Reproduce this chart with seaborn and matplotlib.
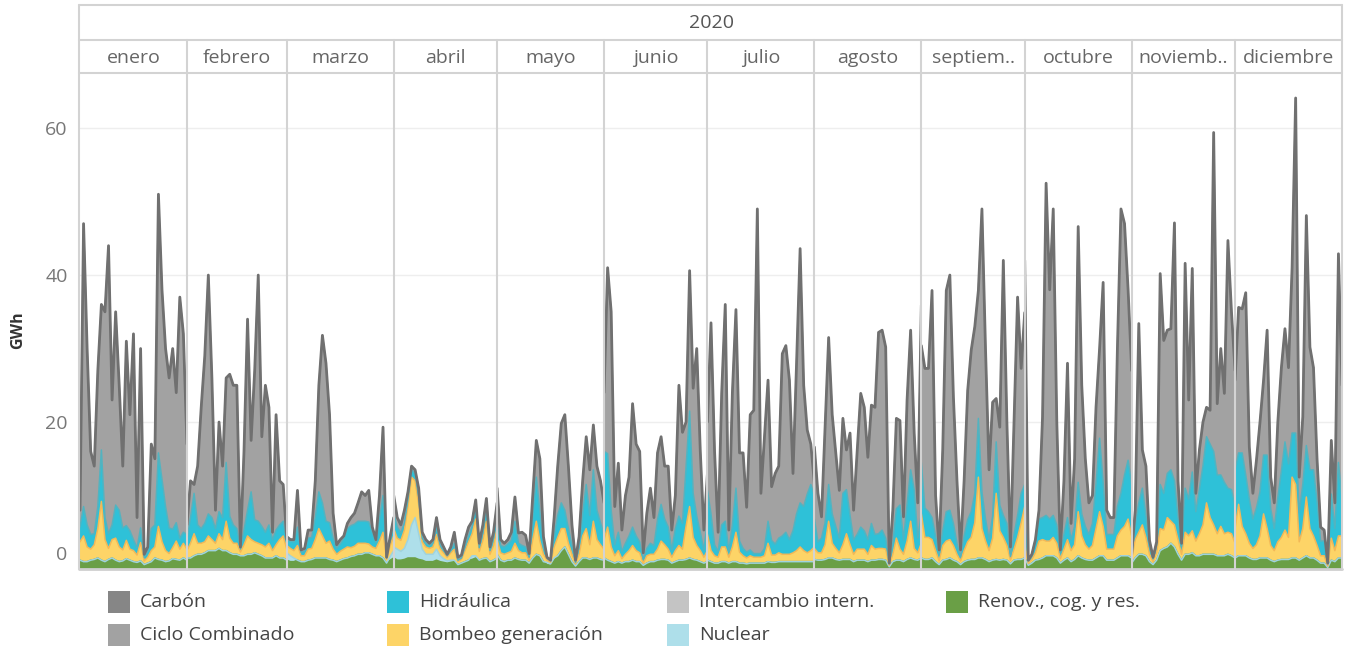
import numpy as np
import pandas as pd
import seaborn as sns
import matplotlib.pyplot as plt
from matplotlib.patches import Rectangle
from matplotlib.lines import Line2D

# Meses (etiquetas tal como aparecen en el panel)
meses = ["enero", "febrero", "marzo", "abril", "mayo", "junio", "julio",
         "agosto", "septiem..", "octubre", "noviemb..", "diciembre"]

# GWh diarios: altura total del área apilada (línea superior)
total = (
    # enero
    [8, 47, 30, 16, 14, 27, 36, 35, 44, 23, 35, 25, 14, 31, 21, 32, 7, 30, 2, 3,
     17, 15, 51, 38, 30, 26, 30, 24, 37, 32, 17]
    # febrero
    + [6, 12, 11.5, 14, 22, 29, 40, 26, 8, 20, 14, 26, 26.5, 25, 25, 3, 16, 34, 17.5, 27,
       40, 18, 25, 22, 5, 21, 12, 11.5, 4]
    # marzo
    + [4.4, 4, 4, 10.7, 2.6, 2.8, 5.3, 5.3, 12, 25, 31.8, 28, 21, 7.6, 3.3, 4, 4.5, 6.2, 7, 7.6,
       9, 10.5, 10, 10.7, 5.7, 4, 10, 19.3, 1.6, 4.4, 7]
    # abril
    + [10, 7, 6, 8, 10.5, 14, 13.5, 11, 5, 4, 3.5, 4, 7, 4, 3, 2, 3, 5, 1.6, 1.9,
       4, 5.7, 6.5, 9.4, 3.5, 6, 9.6, 3, 5, 9]
    # mayo
    + [11, 4, 3.5, 4, 5, 9.8, 4.9, 5, 4.6, 2.1, 10, 17.5, 15, 4.4, 1.6, 1.2, 7, 14, 19.8, 21,
       14, 6, 1.2, 4.4, 12, 18, 13.5, 19.6, 14, 12, 9]
    # junio
    + [24, 41, 35, 8.5, 14.4, 5.3, 10, 12.5, 22.5, 17, 16, 2.2, 7.6, 11, 7, 15.8, 18, 14, 14, 5.3,
       10, 25, 18.6, 20, 40.6, 24.6, 30, 16, 5.3, 13]
    # julio
    + [20, 33.5, 16, 5, 24, 36, 5.3, 24, 35.3, 15.8, 15.8, 8.4, 21, 21.6, 49, 10.3, 18, 25.7, 11.2, 13,
       14, 29.3, 30.4, 25.7, 13, 28, 43.6, 25, 18.9, 17, 11.7]
    # agosto
    + [16.6, 10.3, 7.1, 19.3, 31.5, 21, 15.8, 10.7, 20.5, 16.2, 18.5, 8, 16, 23.9, 22, 15.2, 22.3, 22, 32.2, 32.5,
       30.2, 0.8, 8, 20.5, 20.2, 7.1, 23, 32.5, 18.5, 9, 35.9]
    # septiembre
    + [30.4, 27.3, 27.3, 37.9, 10, 2.6, 16.2, 37.9, 40, 23.4, 12, 2.6, 12, 24.3, 29.8, 33, 37.9, 49, 30, 13.5,
       22.7, 23.2, 19.3, 42, 20, 3, 20, 37, 27.3, 34.9]
    # octubre
    + [42, 1.2, 2, 4, 8, 20.7, 52.5, 38, 49, 20, 2.6, 12, 28, 6.2, 15, 46.6, 25, 15, 9, 10,
       22, 30, 39, 8, 7, 7, 30, 49, 47, 38, 27]
    # noviembre
    + [2, 8, 33.4, 16.2, 14, 3.9, 1.6, 3.7, 40.2, 31.1, 32.5, 32.7, 47.1, 12, 3.5, 41.6, 23, 40.9, 10.3, 16.2,
       20, 22, 21.6, 59.4, 22.5, 30, 23.9, 44.7, 35, 27]
    # diciembre
    + [25.7, 35.6, 35.4, 37.6, 16.6, 10.3, 14.8, 20, 25.7, 32.5, 12.5, 9, 20, 27.4, 32.7, 27.4, 41, 64.1, 12.5, 20.7,
       48.1, 30.2, 27.4, 15, 5.7, 5.3, 0.8, 17.5, 9, 42.9, 25]
)

renov = (
    [1.2, 1.0, 1.0, 1.2, 1.3, 1.5, 1.2, 1.0, 1.3, 1.5, 1.2, 1.0, 1.1, 1.4, 1.2, 1.0, 0.9, 1.1, 0.6, 0.8,
     1.0, 1.5, 1.3, 1.2, 1.0, 1.1, 1.4, 1.3, 1.2, 1.5, 1.2]
    + [1.5, 1.5, 1.8, 2.0, 2.0, 2.2, 2.5, 2.5, 2.5, 2.8, 2.5, 2.5, 2.2, 2.0, 2.0, 1.8, 1.8, 2.0, 2.0, 2.2,
       2.0, 1.8, 1.5, 1.5, 1.5, 1.8, 1.5, 1.5, 1.2]
    + [1.2, 1.0, 1.0, 1.2, 1.0, 1.0, 1.2, 1.3, 1.5, 1.5, 1.5, 1.5, 1.3, 1.2, 1.0, 1.2, 1.4, 1.5, 1.7, 1.8,
       2.0, 2.0, 2.2, 2.2, 2.0, 1.8, 1.8, 1.5, 0.8, 1.2, 1.5]
    + [1.5, 1.2, 1.2, 1.3, 1.5, 1.5, 1.5, 1.3, 1.2, 1.0, 1.0, 1.0, 1.2, 1.0, 0.9, 0.8, 0.9, 1.0, 0.6, 0.8,
       1.0, 1.2, 1.3, 1.5, 1.2, 1.4, 1.5, 1.0, 1.2, 1.5]
    + [2.0, 1.2, 1.0, 1.2, 1.2, 1.5, 1.3, 1.2, 1.2, 0.8, 1.5, 2.0, 1.8, 1.0, 0.6, 0.5, 1.2, 1.8, 2.5, 3.0,
       2.0, 1.0, 0.4, 1.0, 1.5, 1.5, 1.3, 1.5, 1.5, 1.3, 1.2]
    + [1.5, 1.2, 1.0, 0.8, 1.0, 0.8, 1.0, 1.0, 1.2, 1.0, 1.0, 0.5, 0.8, 1.0, 1.0, 1.2, 1.3, 1.3, 1.2, 0.8,
       1.0, 1.2, 1.2, 1.3, 1.5, 1.3, 1.2, 1.0, 0.8, 1.0]
    + [1.2, 1.0, 0.8, 0.8, 1.0, 1.0, 0.8, 1.0, 1.0, 0.8, 0.8, 0.7, 0.8, 0.8, 0.8, 0.8, 0.8, 1.0, 0.9, 0.9,
       1.0, 1.0, 1.0, 1.0, 1.0, 1.0, 1.0, 1.0, 1.0, 1.0, 1.0]
    + [1.3, 1.2, 1.2, 1.3, 1.5, 1.5, 1.3, 1.2, 1.3, 1.3, 1.3, 1.0, 1.2, 1.2, 1.2, 1.0, 1.2, 1.2, 1.3, 1.3,
       1.2, 0.3, 1.0, 1.2, 1.2, 1.0, 1.3, 1.5, 1.3, 1.2, 1.5]
    + [1.5, 1.3, 1.3, 1.5, 1.0, 0.6, 1.2, 1.3, 1.5, 1.2, 1.0, 0.6, 1.0, 1.2, 1.3, 1.3, 1.5, 1.5, 1.3, 1.0,
       1.2, 1.3, 1.2, 1.3, 1.2, 0.7, 1.2, 1.3, 1.3, 1.5]
    + [1.5, 0.5, 0.8, 1.2, 1.3, 1.5, 1.8, 1.8, 1.8, 1.5, 0.8, 1.2, 1.5, 1.0, 1.3, 1.8, 1.5, 1.3, 1.2, 1.2,
       1.5, 1.8, 1.8, 1.2, 1.2, 1.2, 1.5, 1.8, 1.8, 1.8, 1.5]
    + [0.8, 1.5, 2.0, 2.0, 1.8, 1.0, 0.6, 1.2, 2.5, 2.8, 3.0, 3.5, 3.0, 2.0, 1.2, 2.0, 2.0, 2.2, 1.8, 1.8,
       2.0, 2.0, 2.0, 2.0, 1.8, 1.8, 1.8, 2.0, 1.8, 1.5]
    + [1.5, 1.8, 1.8, 1.8, 1.5, 1.3, 1.3, 1.5, 1.5, 1.5, 1.2, 1.0, 1.2, 1.3, 1.3, 1.3, 1.5, 1.5, 1.2, 1.5,
       1.8, 1.5, 1.5, 1.2, 0.8, 0.8, 0.2, 1.2, 1.0, 1.5, 1.5]
)

nuclear = (
    [0.0] * 31 + [0.0] * 29
    + [1.0, 0.8, 0.5] + [0.0] * 26 + [0.5, 1.0]
    + [1.5, 1.5, 1.2, 1.5, 2.5, 4.5, 5.5, 3.5, 1.5, 1.0, 1.0, 1.0, 1.5, 0.8, 0.5, 0.3, 0.3, 0.2, 0, 0,
       0, 0, 0.5, 0.3, 0, 0, 0, 0, 0, 0]
    + [0, 0, 0, 0, 0, 0, 0, 0, 0, 0, 0, 0, 0, 0, 0.3, 0.2, 0.3, 0, 0, 0,
       0, 0, 0, 0, 0, 0, 0, 0, 0, 0, 0]
    + [0.0] * 30 + [0.0] * 31 + [0.0] * 31 + [0.0] * 30 + [0.0] * 31 + [0.0] * 30 + [0.0] * 31
)

bombeo = (
    [2.5, 3.5, 2.0, 1.5, 2.0, 4.0, 8.0, 3.0, 1.5, 2.5, 3.0, 2.0, 1.5, 2.5, 1.5, 1.5, 1.0, 2.5, 0.5, 0.8,
     1.5, 1.5, 4.5, 2.5, 1.5, 1.0, 1.5, 2.5, 1.5, 2.0, 1.5]
    + [1.0, 2.0, 3.0, 1.5, 1.5, 1.5, 2.0, 1.5, 1.0, 2.0, 1.5, 4.0, 2.0, 1.5, 1.5, 0.5, 1.5, 2.5, 2.0, 1.5,
       1.5, 1.5, 1.5, 2.0, 1.0, 1.5, 2.5, 3.0, 1.5]
    + [1.0, 1.0, 1.0, 2.0, 0.8, 0.8, 1.5, 1.5, 2.5, 4.0, 3.0, 2.0, 2.5, 1.5, 1.0, 1.2, 1.3, 1.5, 1.2, 1.3,
       1.5, 1.5, 1.3, 1.2, 1.0, 1.0, 2.0, 3.5, 0.5, 1.5, 2.0]
    + [2.5, 1.5, 1.5, 2.5, 4.5, 6.5, 5.0, 4.0, 1.0, 1.0, 0.8, 1.0, 2.0, 1.0, 0.8, 0.5, 1.0, 1.5, 0.4, 0.5,
       1.5, 2.5, 3.0, 5.0, 1.2, 2.5, 5.0, 1.0, 2.0, 4.0]
    + [2.0, 1.0, 1.0, 1.0, 1.2, 2.0, 1.2, 1.0, 1.0, 0.4, 2.5, 4.5, 2.0, 1.0, 0.3, 0.2, 1.5, 2.5, 3.0, 2.5,
       1.5, 1.0, 0.3, 1.0, 3.0, 4.0, 2.0, 5.0, 2.5, 2.0, 1.5]
    + [2.5, 4.5, 2.0, 1.0, 1.5, 0.6, 1.0, 1.5, 2.0, 1.5, 1.2, 0.3, 1.0, 1.0, 1.0, 1.5, 2.5, 2.0, 1.5, 0.8,
       1.5, 2.0, 1.5, 4.5, 7.0, 3.0, 2.0, 1.5, 0.8, 1.5]
    + [3.5, 1.5, 1.0, 0.8, 2.0, 2.0, 0.8, 2.0, 4.0, 1.5, 1.0, 0.8, 1.0, 0.8, 0.8, 0.8, 1.0, 2.5, 1.0, 1.0,
       1.2, 1.0, 1.0, 1.0, 1.2, 1.5, 2.0, 1.5, 1.2, 1.5, 2.0]
    + [1.5, 1.0, 1.0, 2.0, 5.0, 2.0, 1.5, 1.0, 2.0, 3.5, 2.0, 1.0, 1.5, 1.5, 1.5, 1.0, 2.0, 1.5, 1.5, 1.5,
       1.5, 0.2, 1.0, 3.0, 1.5, 1.0, 2.5, 5.0, 1.5, 1.0, 2.0]
    + [6.0, 3.0, 3.0, 2.5, 1.5, 0.5, 2.0, 2.5, 2.5, 2.0, 1.0, 0.5, 1.5, 2.5, 3.0, 5.0, 11.0, 4.0, 2.5, 1.5,
       3.0, 9.0, 4.0, 3.0, 2.0, 0.5, 1.5, 3.0, 5.0, 7.0]
    + [2.0, 0.3, 0.5, 1.0, 2.5, 2.5, 2.0, 2.0, 2.5, 2.0, 0.6, 1.5, 2.5, 1.5, 2.0, 6.0, 3.0, 2.0, 1.5, 2.0,
       4.0, 6.0, 4.0, 1.5, 1.5, 1.5, 3.0, 3.5, 4.0, 5.0, 3.0]
    + [0.5, 2.5, 3.0, 4.0, 2.5, 1.0, 0.4, 1.0, 3.0, 2.5, 4.0, 3.0, 3.0, 2.0, 0.8, 3.0, 2.5, 3.0, 2.0, 3.0,
       4.0, 7.0, 5.0, 4.0, 3.0, 4.0, 3.0, 3.0, 3.0, 2.0]
    + [4.0, 7.0, 4.0, 3.0, 2.0, 1.5, 2.0, 3.0, 6.0, 4.0, 2.0, 1.5, 2.5, 3.0, 4.0, 3.0, 11.0, 10.0, 2.5, 4.0,
       8.0, 4.0, 3.0, 2.0, 1.0, 1.0, 0.2, 3.0, 1.5, 3.0, 3.0]
)

hidraulica = (
    [2.0, 4.0, 3.0, 2.0, 1.5, 3.0, 7.0, 3.0, 2.0, 2.0, 4.5, 5.0, 3.0, 2.0, 2.5, 1.5, 1.0, 2.0, 0.5, 0.8,
     3.0, 3.0, 10.0, 8.5, 6.0, 3.5, 2.5, 2.5, 1.5, 1.5, 2.0]
    + [1.5, 3.5, 5.5, 2.5, 2.0, 2.5, 3.0, 3.0, 2.0, 3.0, 3.0, 8.0, 3.0, 2.5, 2.0, 0.5, 2.0, 3.5, 6.5, 3.0,
       3.0, 2.5, 2.0, 2.5, 1.5, 2.0, 2.0, 2.0, 1.0]
    + [0.8, 1.0, 1.2, 2.5, 0.5, 0.6, 1.5, 1.5, 3.0, 5.0, 4.5, 3.0, 2.5, 1.5, 0.8, 1.0, 1.5, 2.5, 3.0, 3.0,
       3.0, 3.0, 3.0, 3.0, 2.0, 0.8, 3.0, 5.0, 0.2, 1.0, 1.5]
    + [2.0, 1.5, 1.0, 1.0, 1.0, 1.0, 1.0, 1.0, 0.5, 0.5, 0.4, 0.5, 1.0, 0.5, 0.3, 0.2, 0.3, 0.8, 0.2, 0.2,
       0.5, 0.8, 1.0, 2.0, 0.5, 1.0, 2.0, 0.5, 1.0, 2.5]
    + [2.0, 1.0, 1.0, 1.2, 1.5, 3.0, 1.0, 1.0, 0.8, 0.4, 3.0, 6.0, 4.0, 1.0, 0.3, 0.2, 1.5, 3.0, 3.5, 2.5,
       2.0, 1.2, 0.2, 1.0, 3.0, 6.0, 4.0, 7.0, 4.0, 3.0, 2.0]
    + [12.0, 10.0, 5.0, 1.5, 2.5, 1.0, 1.5, 2.0, 2.5, 2.0, 1.5, 0.5, 1.0, 1.5, 1.2, 4.0, 5.0, 3.5, 3.0, 1.0,
       3.0, 4.0, 3.5, 8.0, 13.0, 6.0, 4.0, 2.5, 1.0, 4.0]
    + [6.0, 5.0, 1.5, 0.8, 3.0, 3.5, 0.8, 3.0, 6.0, 1.5, 1.0, 0.8, 0.8, 0.5, 0.5, 0.5, 1.0, 3.0, 2.0, 1.5,
       2.0, 2.5, 3.0, 2.0, 3.0, 5.0, 6.0, 6.0, 8.0, 9.0, 7.0]
    + [4.0, 1.5, 2.0, 3.0, 5.0, 4.0, 3.0, 2.0, 7.0, 6.0, 4.0, 2.0, 2.0, 3.0, 2.5, 2.0, 3.0, 2.0, 2.0, 2.5,
       1.5, 0.2, 1.5, 4.0, 6.0, 2.0, 5.0, 7.0, 8.0, 2.0, 4.0]
    + [7.0, 4.0, 3.5, 3.0, 2.0, 0.8, 2.0, 4.0, 4.0, 3.0, 1.5, 0.5, 2.0, 3.0, 3.5, 4.0, 8.0, 5.0, 3.0, 1.5,
       3.0, 7.0, 3.5, 3.0, 3.0, 0.5, 2.0, 3.0, 4.0, 3.0]
    + [3.0, 0.3, 0.5, 1.5, 3.0, 3.0, 3.5, 3.0, 3.0, 2.5, 0.8, 2.0, 3.0, 1.5, 2.5, 4.0, 3.0, 2.5, 2.0, 3.0,
       6.0, 10.0, 6.0, 2.0, 2.0, 2.0, 4.0, 5.0, 7.0, 8.0, 7.0]
    + [0.5, 2.0, 4.0, 5.0, 3.0, 1.0, 0.4, 1.0, 6.0, 5.0, 6.0, 7.0, 6.0, 3.0, 1.0, 6.0, 5.0, 8.0, 4.0, 6.0,
       8.0, 9.0, 10.0, 10.0, 8.0, 7.0, 7.0, 6.0, 6.0, 5.0]
    + [8.0, 7.0, 10.0, 8.0, 6.0, 4.0, 5.0, 6.0, 8.0, 10.0, 5.0, 3.0, 6.0, 9.0, 12.0, 10.0, 6.0, 7.0, 4.0, 6.0,
       7.0, 8.0, 9.0, 6.0, 2.0, 2.0, 0.3, 6.0, 3.0, 10.0, 5.0]
)

leyenda = ["Carbón", "Ciclo Combinado", "Hidráulica", "Bombeo generación",
           "Intercambio intern.", "Nuclear", "Renov., cog. y res."]
colores = ["#868686", "#a2a2a2", "#2ec1d8", "#fdd467", "#c4c4c4", "#aedfea", "#6a9f46"]

fechas = pd.date_range("2020-01-01", "2020-12-31", freq="D")
for nombre, serie in [("total", total), ("renov", renov), ("nuclear", nuclear),
                      ("bombeo", bombeo), ("hidraulica", hidraulica)]:
    assert len(serie) == len(fechas), (nombre, len(serie))

df = pd.DataFrame({"fecha": fechas, "total": total, "renov": renov, "nuclear": nuclear,
                   "bombeo": bombeo, "hidraulica": hidraulica})
df["mes"] = df["fecha"].dt.month
df["dia"] = df["fecha"].dt.day
df["ciclo"] = (df["total"] - df[["renov", "nuclear", "bombeo", "hidraulica"]].sum(axis=1)).clip(lower=0)

sns.set_style("white")
plt.rcParams["font.family"] = ["Open Sans", "DejaVu Sans"]

W, H = 1351, 650
fig = plt.figure(figsize=(W / 100, H / 100), dpi=100)


def fx(x):
    return x / W


def fy(y):
    return 1 - y / H


izq, der, arriba, abajo = 80, 1342, 73, 569
dias = df.groupby("mes").size().values
ppd = (der - izq) / (dias - 1).sum()
ymax = 67.5
fs = 14

# capas de abajo hacia arriba: (columna, color relleno, color borde)
capas = [("renov", "#6a9f46", "#6a9f46"),
         ("nuclear", "#aedfea", "#9fd3df"),
         ("bombeo", "#fdd467", "#f3b857"),
         ("hidraulica", "#2ec1d8", "#52b3c0"),
         ("ciclo", "#a2a2a2", "#8e8e8e")]

limites = [izq]
x0 = izq
for i, mes in enumerate(range(1, 13)):
    d = df[df["mes"] == mes]
    w = ppd * (dias[i] - 1)
    ax = fig.add_axes([fx(x0), fy(abajo), w / W, (abajo - arriba) / H])
    x = d["dia"].values
    base = np.zeros(len(d))
    for col, c, ce in capas:
        sup = base + d[col].values
        ax.fill_between(x, base, sup, facecolor=c, edgecolor="none", zorder=2)
        # borde sólo por arriba de cada capa
        ax.plot(x, sup, color=ce, lw=1.1, zorder=3)
        base = sup
    sns.lineplot(x=x, y=d["total"].values, ax=ax, color="#707070", lw=2.0,
                 zorder=4, legend=False)
    ax.set_xlim(1, dias[i])
    ax.set_ylim(0, ymax)
    ax.set_yticks([20, 40, 60])
    ax.set_xticks([])
    ax.grid(axis="y", color="#eeeeee", lw=1)
    ax.set_axisbelow(True)
    ax.set_xlabel("")
    ax.set_ylabel("")
    for s in ax.spines.values():
        s.set_visible(False)
    if i == 0:
        ax.tick_params(axis="y", length=0, labelsize=fs, labelcolor="#777777", pad=9)
    else:
        ax.tick_params(axis="y", length=0, labelleft=False)
    fig.text(fx(x0 + w / 2), fy(58), meses[i], ha="center", va="center",
             fontsize=fs, color="#666666")
    x0 += w
    limites.append(x0)

# etiqueta 0 (desplazada dentro del panel, como en el original)
fig.text(fx(67), fy(555), "0", ha="right", va="center", fontsize=fs, color="#777777")
fig.text(fx(18), fy(330), "GWh", ha="center", va="center", rotation=90,
         fontsize=11.5, fontweight="bold", color="#333333")
fig.text(fx((izq + der) / 2), fy(23), "2020", ha="center", va="center",
         fontsize=fs, color="#555555")


def linea(x1, y1, x2, y2, color="#d3d3d3", lw=1.5):
    fig.add_artist(Line2D([fx(x1), fx(x2)], [fy(y1), fy(y2)], color=color, lw=lw,
                          transform=fig.transFigure, zorder=10))


linea(izq - 1, 5, der, 5)
linea(izq - 1, 40, der, 40)
linea(izq - 1, 73, der, 73)
linea(izq - 1, abajo, der, abajo, color="#cfcfcf", lw=2)
linea(izq - 1, 5, izq - 1, abajo)
linea(der, 5, der, abajo)
for xb in limites[1:-1]:
    linea(xb, 40, xb, abajo)

# leyenda
pos = [(108, 602), (108, 635), (387, 602), (387, 635), (667, 602), (667, 635), (946, 602)]
for (lx, ly), nombre, c in zip(pos, leyenda, colores):
    fig.add_artist(Rectangle((fx(lx), fy(ly + 11)), 22 / W, 22 / H, facecolor=c,
                             edgecolor="none", transform=fig.transFigure))
    fig.text(fx(lx + 32), fy(ly), nombre, ha="left", va="center", fontsize=fs,
             color="#444444")

fig.savefig("out.png", dpi=100)
